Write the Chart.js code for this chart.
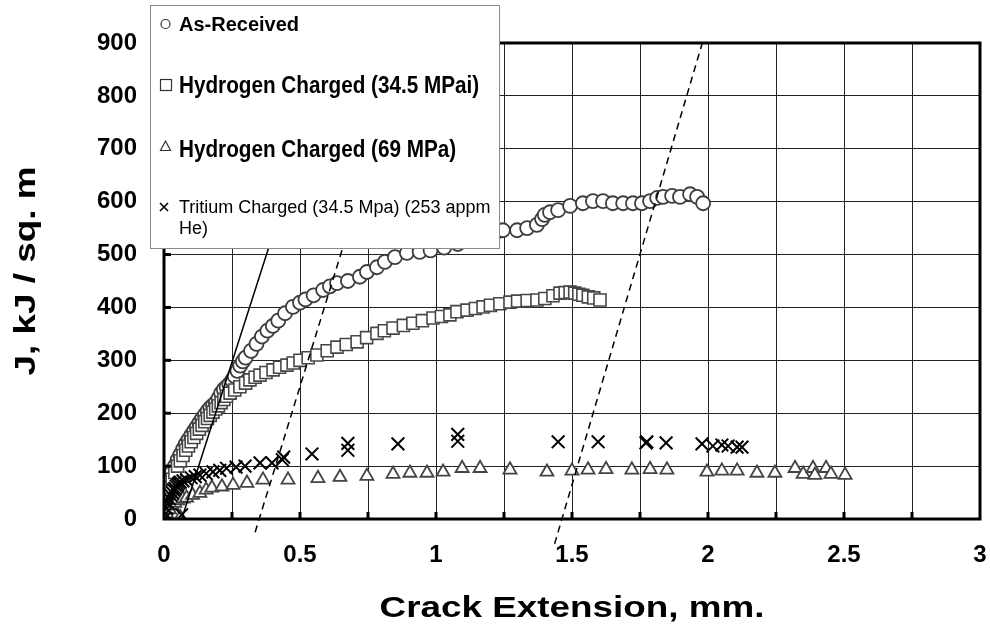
<!DOCTYPE html>
<html>
<head>
<meta charset="utf-8">
<script src="https://cdn.jsdelivr.net/npm/chart.js@4.4.1/dist/chart.umd.min.js"></script>
<style>
  html, body { margin: 0; padding: 0; background: #fff; }
  #wrap { width: 990px; height: 629px; }
</style>
</head>
<body>
<div id="wrap"><canvas id="jrChart" width="990" height="629"></canvas></div>
<script>
// series names (legend)
const seriesNames = [
  "As-Received",
  "Hydrogen Charged (34.5 MPai)",
  "Hydrogen Charged (69 MPa)",
  "Tritium Charged (34.5 Mpa) (253 appm",
  "He)"
];

// As-Received (circles)
const arX = [0, 0.005, 0.01, 0.02, 0.03, 0.04, 0.05, 0.06, 0.07, 0.08, 0.09, 0.1, 0.11, 0.12, 0.13, 0.14, 0.15, 0.16, 0.17, 0.18, 0.19, 0.2, 0.21, 0.22, 0.23, 0.24, 0.25, 0.26, 0.27, 0.28, 0.29, 0.3, 0.32, 0.34, 0.36, 0.38, 0.4, 0.42, 0.445, 0.474, 0.5, 0.52, 0.55, 0.585, 0.61, 0.636, 0.676, 0.72, 0.746, 0.783, 0.812, 0.849, 0.893, 0.94, 0.98, 1.03, 1.08, 1.13, 1.18, 1.22, 1.246, 1.298, 1.335, 1.371, 1.39, 1.4, 1.419, 1.449, 1.493, 1.54, 1.577, 1.614, 1.65, 1.688, 1.724, 1.757, 1.787, 1.813, 1.835, 1.868, 1.897, 1.934, 1.96, 1.982];
const arY = [30, 45, 60, 75, 90, 100, 112, 122, 132, 142, 150, 158, 166, 174, 182, 190, 197, 204, 210, 215, 220, 228, 238, 245, 250, 255, 262, 270, 280, 290, 298, 305, 318, 331, 345, 356, 365, 375, 389, 401, 409, 415, 423, 433, 440, 446, 450, 458, 467, 476, 486, 495, 503, 505, 508, 513, 520, 527, 536, 542, 546, 546, 550, 556, 567, 575, 580, 584, 592, 597, 601, 601, 597, 597, 597, 597, 601, 607, 609, 611, 609, 614, 609, 597];

// Hydrogen Charged 34.5 MPa (squares)
const h345X = [0, 0.005, 0.01, 0.015, 0.02, 0.03, 0.04, 0.05, 0.06, 0.07, 0.08, 0.09, 0.1, 0.11, 0.12, 0.13, 0.14, 0.15, 0.16, 0.17, 0.18, 0.19, 0.2, 0.21, 0.22, 0.23, 0.243, 0.26, 0.279, 0.3, 0.316, 0.335, 0.353, 0.375, 0.401, 0.425, 0.452, 0.475, 0.5, 0.53, 0.562, 0.6, 0.636, 0.67, 0.71, 0.745, 0.783, 0.81, 0.842, 0.88, 0.915, 0.95, 0.989, 1.02, 1.051, 1.077, 1.114, 1.145, 1.173, 1.2, 1.235, 1.272, 1.3, 1.335, 1.371, 1.4, 1.43, 1.456, 1.475, 1.493, 1.51, 1.525, 1.54, 1.56, 1.58, 1.603];
const h345Y = [5, 20, 35, 48, 60, 75, 88, 100, 110, 120, 130, 138, 146, 154, 162, 170, 177, 184, 190, 196, 202, 208, 214, 220, 226, 232, 238, 244, 250, 257, 263, 268, 272, 277, 282, 287, 291, 295, 300, 305, 310, 318, 325, 330, 335, 343, 351, 356, 361, 366, 370, 375, 380, 383, 386, 392, 395, 398, 401, 404, 407, 410, 412, 413, 414, 417, 422, 427, 428, 429, 427, 425, 423, 420, 418, 414];

// Hydrogen Charged 69 MPa (triangles)
const h69X = [0, 0.005, 0.01, 0.02, 0.03, 0.04, 0.05, 0.06, 0.07, 0.083, 0.105, 0.132, 0.155, 0.176, 0.213, 0.254, 0.305, 0.364, 0.456, 0.566, 0.647, 0.746, 0.842, 0.904, 0.967, 1.026, 1.096, 1.162, 1.272, 1.408, 1.5, 1.559, 1.625, 1.72, 1.787, 1.849, 1.996, 2.051, 2.107, 2.18, 2.246, 2.32, 2.35, 2.386, 2.393, 2.434, 2.452, 2.504];
const h69Y = [0, 5, 10, 18, 25, 30, 35, 3, 38, 40, 45, 49, 55, 59, 61, 64, 68, 74, 74, 77, 79, 81, 85, 87, 87, 89, 96, 96, 93, 89, 91, 93, 94, 93, 94, 93, 89, 91, 91, 87, 87, 96, 85, 96, 83, 96, 85, 83];

// Tritium Charged (crosses)
const triX = [0, 0.005, 0.01, 0.015, 0.02, 0.025, 0.03, 0.035, 0.04, 0.045, 0.05, 0.055, 0.06, 0.065, 0.07, 0.083, 0.1, 0.115, 0.132, 0.155, 0.18, 0.205, 0.23, 0.265, 0.298, 0.353, 0.397, 0.435, 0.44, 0.544, 0.676, 0.676, 0.86, 1.08, 1.08, 1.449, 1.596, 1.772, 1.775, 1.846, 1.978, 2.018, 2.051, 2.074, 2.107, 2.125];
const triY = [0, 10, 20, 30, 38, 45, 50, 55, 58, 62, 65, 68, 70, 8, 72, 74, 78, 80, 83, 86, 89, 92, 96, 98, 100, 106, 106, 112, 117, 123, 130, 143, 142, 147, 160, 146, 146, 144, 146, 144, 142, 138, 140, 138, 136, 136];

// blunting line and exclusion (offset) lines
const bluntX = [0.065, 0.62];
const bluntY = [0, 890];
const offsetAX = [0.335, 0.877];
const offsetAY = [-25, 880];
const offsetBX = [1.436, 1.979];
const offsetBY = [-47, 900];

const toPts = (xs, ys) => xs.map((x, i) => ({ x, y: ys[i] }));

const FONT = '"Liberation Sans", Arial, Helvetica, sans-serif';

// text with horizontal stretch (the original chart text is a bit wide)
function stretchText(ctx, str, x, y, size, weight, sx, align, rot) {
  ctx.save();
  ctx.translate(x, y);
  if (rot) ctx.rotate(rot);
  ctx.scale(sx, 1);
  ctx.font = `${weight} ${size}px ${FONT}`;
  ctx.textAlign = align;
  ctx.textBaseline = "alphabetic";
  ctx.fillStyle = "#000";
  ctx.fillText(str, 0, 0);
  ctx.restore();
}

const framePlugin = {
  id: "frame",
  afterDatasetsDraw(chart) {
    const { ctx, chartArea: a, scales: { x, y } } = chart;
    ctx.save();
    ctx.fillStyle = "#000";
    for (let v = 0.25; v < 3; v += 0.25) {
      const px = x.getPixelForValue(v);
      ctx.fillRect(px - 1.5, a.bottom - 7, 3, 7);
    }
    for (let v = 100; v < 900; v += 100) {
      const py = y.getPixelForValue(v);
      ctx.fillRect(a.left, py - 1.5, 7, 3);
    }
    ctx.lineWidth = 3;
    ctx.strokeStyle = "#000";
    ctx.strokeRect(a.left, a.top, a.right - a.left, a.bottom - a.top);
    ctx.restore();
  },
  afterDraw(chart) {
    const { ctx, chartArea: a } = chart;
    ctx.save();
    // legend box
    ctx.fillStyle = "#fff";
    ctx.fillRect(150.5, 5.5, 349, 243);
    ctx.strokeStyle = "#8a8a8a";
    ctx.lineWidth = 1;
    ctx.strokeRect(150.5, 5.5, 349, 243);

    ctx.strokeStyle = "#333";
    ctx.lineWidth = 1.2;
    ctx.beginPath();
    ctx.arc(165.5, 24, 4.5, 0, Math.PI * 2);
    ctx.stroke();
    ctx.strokeRect(160.5, 79.5, 11, 11);
    ctx.beginPath();
    ctx.moveTo(165.5, 141);
    ctx.lineTo(170.5, 150.5);
    ctx.lineTo(160.5, 150.5);
    ctx.closePath();
    ctx.stroke();
    ctx.strokeStyle = "#000";
    ctx.lineWidth = 1.6;
    ctx.beginPath();
    ctx.moveTo(160, 203); ctx.lineTo(168, 211);
    ctx.moveTo(168, 203); ctx.lineTo(160, 211);
    ctx.stroke();

    stretchText(ctx, seriesNames[0], 179, 31, 20, "bold", 1, "left");
    stretchText(ctx, seriesNames[1], 179, 93, 23, "bold", 0.9, "left");
    stretchText(ctx, seriesNames[2], 179, 157, 23, "bold", 0.9, "left");
    stretchText(ctx, seriesNames[3], 179, 213, 18, "normal", 1, "left");
    stretchText(ctx, seriesNames[4], 179, 234, 18, "normal", 1, "left");

    // axis titles
    stretchText(ctx, "Crack Extension, mm.", (a.left + a.right) / 2, 617, 29, "bold", 1.27, "center");
    stretchText(ctx, "J, kJ / sq. m", 35, 271, 29, "bold", 1.27, "center", -Math.PI / 2);
    ctx.restore();
  }
};

const marker = (col, style, r, bw) => ({
  showLine: false,
  pointStyle: style,
  pointRadius: r,
  pointBorderColor: col,
  pointBackgroundColor: "#fff",
  pointBorderWidth: bw
});

const ctx = document.getElementById("jrChart").getContext("2d");

new Chart(ctx, {
  type: "scatter",
  data: {
    datasets: [
      { data: toPts(bluntX, bluntY), showLine: true, borderColor: "#000", borderWidth: 1.5, pointRadius: 0, clip: false },
      { data: toPts(offsetAX, offsetAY), showLine: true, borderColor: "#000", borderWidth: 1.5, borderDash: [7, 5], pointRadius: 0, clip: false },
      { data: toPts(offsetBX, offsetBY), showLine: true, borderColor: "#000", borderWidth: 1.5, borderDash: [7, 5], pointRadius: 0, clip: false },
      { data: toPts(triX, triY), ...marker("#000", "crossRot", 9, 2) },
      { data: toPts(h69X, h69Y), ...marker("#444", "triangle", 7.5, 1.8) },
      { data: toPts(h345X, h345Y), ...marker("#474747", "rect", 8.5, 1.6) },
      { data: toPts(arX, arY), ...marker("#3d3d3d", "circle", 7, 1.8) }
    ]
  },
  options: {
    responsive: false,
    animation: false,
    layout: { autoPadding: false, padding: { top: 43, right: 10, left: 0, bottom: 0 } },
    plugins: {
      legend: { display: false },
      tooltip: { enabled: false }
    },
    scales: {
      x: {
        type: "linear",
        min: 0,
        max: 3,
        afterFit: (s) => { s.height = 110; s.paddingLeft = 0; s.paddingRight = 0; },
        border: { display: false },
        grid: { color: "#222", lineWidth: 1, drawTicks: false },
        ticks: {
          stepSize: 0.25,
          autoSkip: false,
          maxRotation: 0,
          padding: 22,
          color: "#000",
          font: { family: FONT, size: 24, weight: "bold" },
          callback: (v) => (Math.round(v * 100) % 50 === 0 ? String(v) : "")
        }
      },
      y: {
        min: 0,
        max: 900,
        afterFit: (s) => { s.width = 164; s.paddingTop = 0; s.paddingBottom = 0; },
        border: { display: false },
        grid: { color: "#222", lineWidth: 1, drawTicks: false },
        ticks: {
          stepSize: 100,
          padding: 27,
          color: "#000",
          font: { family: FONT, size: 24, weight: "bold" },
          callback: (v) => String(v)
        }
      }
    }
  },
  plugins: [framePlugin]
});
</script>
</body>
</html>
